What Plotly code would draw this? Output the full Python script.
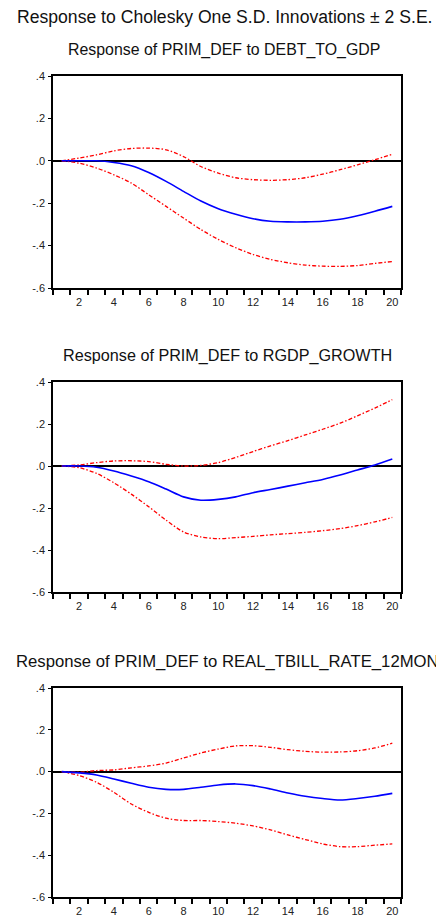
import plotly.graph_objects as go

periods = list(range(1, 21))

titles = [
    "Response of PRIM_DEF to DEBT_TO_GDP",
    "Response of PRIM_DEF to RGDP_GROWTH",
    "Response of PRIM_DEF to REAL_TBILL_RATE_12MON",
]
main_title = "Response to Cholesky One S.D. Innovations ± 2 S.E."

# Panel 1: response to DEBT_TO_GDP
resp_debt = [0.0, 0.0, 0.0, -0.008, -0.023, -0.055, -0.097, -0.144, -0.19, -0.226,
             -0.252, -0.273, -0.285, -0.288, -0.288, -0.285, -0.276, -0.259, -0.238, -0.215]
upper_debt = [0.0, 0.013, 0.028, 0.047, 0.058, 0.06, 0.052, 0.02, -0.027, -0.058,
              -0.08, -0.089, -0.092, -0.089, -0.08, -0.063, -0.042, -0.019, 0.005, 0.031]
lower_debt = [0.0, -0.011, -0.034, -0.066, -0.105, -0.16, -0.215, -0.27, -0.324, -0.371,
              -0.41, -0.442, -0.465, -0.481, -0.492, -0.497, -0.498, -0.494, -0.484, -0.475]

# Panel 2: response to RGDP_GROWTH
resp_rgdp = [0.0, 0.0, -0.006, -0.024, -0.048, -0.075, -0.11, -0.147, -0.163, -0.159,
             -0.147, -0.127, -0.112, -0.096, -0.08, -0.064, -0.043, -0.019, 0.005, 0.033]
upper_rgdp = [0.0, 0.005, 0.016, 0.024, 0.025, 0.021, 0.008, 0.0, 0.003, 0.016,
              0.041, 0.069, 0.096, 0.121, 0.148, 0.175, 0.204, 0.239, 0.276, 0.316]
lower_rgdp = [0.0, -0.008, -0.035, -0.08, -0.134, -0.194, -0.258, -0.314, -0.338, -0.346,
              -0.341, -0.335, -0.328, -0.322, -0.316, -0.308, -0.298, -0.284, -0.266, -0.245]

# Panel 3: response to REAL_TBILL_RATE_12MON
resp_tbill = [0.0, -0.006, -0.016, -0.035, -0.056, -0.075, -0.085, -0.085, -0.075, -0.064,
              -0.059, -0.067, -0.083, -0.102, -0.118, -0.129, -0.136, -0.129, -0.118, -0.104]
upper_tbill = [0.0, -0.003, 0.005, 0.008, 0.018, 0.027, 0.041, 0.065, 0.089, 0.108,
               0.123, 0.124, 0.116, 0.105, 0.097, 0.093, 0.094, 0.1, 0.113, 0.136]
lower_tbill = [0.0, -0.019, -0.051, -0.099, -0.155, -0.195, -0.223, -0.234, -0.234, -0.239,
               -0.247, -0.26, -0.279, -0.303, -0.325, -0.346, -0.359, -0.359, -0.352, -0.346]

ytick_vals = [0.4, 0.2, 0.0, -0.2, -0.4, -0.6]
ytick_text = [".4", ".2", ".0", "-.2", "-.4", "-.6"]
xtick_vals = [2, 4, 6, 8, 10, 12, 14, 16, 18, 20]
xtick_text = ["2", "4", "6", "8", "10", "12", "14", "16", "18", "20"]
xminor_vals = [0.5 + i for i in range(21)]

panels = [
    (resp_debt, upper_debt, lower_debt),
    (resp_rgdp, upper_rgdp, lower_rgdp),
    (resp_tbill, upper_tbill, lower_tbill),
]

# The page body has an 8px default margin: lay out in page pixels minus 8.
OFF = 8
W, H = 444 - OFF, 918 - OFF
x_dom = [(53 - OFF) / W, (401 - OFF) / W]
y_px = [(76, 288), (382, 592), (688, 897)]
title_px = [(224, 50), (227.5, 355), (227, 661)]
title_sizes = [15.9, 16.2, 16.7]

fig = go.Figure()
tick_font = dict(family="Liberation Sans, Arial, sans-serif", size=11, color="#222")

for i, (resp, up, lo) in enumerate(panels):
    n = "" if i == 0 else str(i + 1)
    xa, ya = "x" + n, "y" + n
    for series, color, dash, width in [
        (up, "#ff0000", "4px,2px,1.5px,2px", 1.3),
        (lo, "#ff0000", "4px,2px,1.5px,2px", 1.3),
        (resp, "#0000ff", "solid", 1.6),
    ]:
        fig.add_trace(go.Scatter(
            x=periods, y=series, mode="lines", xaxis=xa, yaxis=ya,
            line=dict(color=color, dash=dash, width=width, shape="spline", smoothing=0.8),
            showlegend=False, hoverinfo="skip",
        ))
    top, bot = y_px[i]
    fig.layout["xaxis" + n] = dict(
        domain=x_dom, anchor=ya, range=[0.5, 20.5],
        tickmode="array", tickvals=xtick_vals, ticktext=xtick_text,
        ticks="outside", ticklen=3, tickcolor="rgba(0,0,0,0)",
        minor=dict(tickmode="array", tickvals=xminor_vals, ticks="outside",
                   ticklen=5, tickwidth=1.5, tickcolor="black"),
        showgrid=False, zeroline=False, showline=True, mirror=True,
        linecolor="black", linewidth=1.5, tickfont=tick_font, fixedrange=True,
    )
    fig.layout["yaxis" + n] = dict(
        domain=[1 - (bot - OFF) / H, 1 - (top - OFF) / H], anchor=xa, range=[-0.6, 0.4],
        tickmode="array", tickvals=ytick_vals, ticktext=ytick_text,
        ticks="outside", ticklen=3, tickwidth=1.2, tickcolor="black",
        ticklabelstandoff=1,
        showgrid=False, zeroline=True, zerolinecolor="black", zerolinewidth=1.5,
        showline=True, mirror=True, linecolor="black", linewidth=1.5,
        tickfont=tick_font, fixedrange=True,
    )
    cx, cy = title_px[i]
    fig.add_annotation(
        text=titles[i], x=(cx - OFF) / W, y=1 - (cy - OFF) / H, xref="paper", yref="paper",
        xanchor="center", yanchor="middle", showarrow=False,
        font=dict(family="Liberation Sans, Arial, sans-serif", size=title_sizes[i], color="#111"),
    )

fig.add_annotation(
    text=main_title, x=(225 - OFF) / W, y=1 - (17 - OFF) / H, xref="paper", yref="paper",
    xanchor="center", yanchor="middle", showarrow=False,
    font=dict(family="Liberation Sans, Arial, sans-serif", size=17.6, color="#111"),
)

fig.update_layout(
    width=W, height=H, margin=dict(l=0, r=0, t=0, b=0, autoexpand=False),
    paper_bgcolor="white", plot_bgcolor="white",
)

fig.write_html("out.html")
